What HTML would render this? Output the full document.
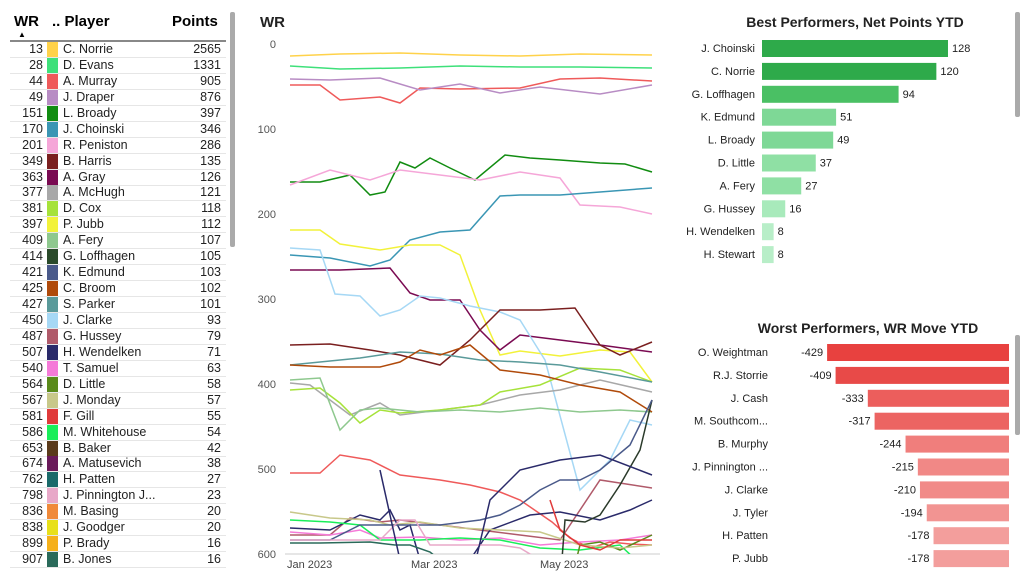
<!DOCTYPE html><html><head><style>
body{margin:0;width:1024px;height:585px;background:#fff;font-family:"Liberation Sans",sans-serif;overflow:hidden;position:relative}
.r{position:absolute;left:10px;width:216px;height:15px;border-bottom:1px solid #e6e6e6;font-size:12.5px;line-height:15px;color:#222}
.r .w{position:absolute;right:183px}
.r .s{position:absolute;left:37px;width:11px;height:15px}
.r .n{position:absolute;left:53px}
.r .p{position:absolute;right:5px}
</style></head><body>
<div style="position:absolute;left:14px;top:13px;font-weight:bold;font-size:15px">WR</div>
<div style="position:absolute;left:18px;top:30px;font-size:8px">▲</div>
<div style="position:absolute;left:52px;top:13px;font-weight:bold;font-size:15px">.. Player</div>
<div style="position:absolute;left:172px;top:13px;font-weight:bold;font-size:15px">Points</div>
<div style="position:absolute;left:10px;top:40px;width:216px;height:2px;background:#888"></div>
<div style="position:absolute;left:230px;top:12px;width:5px;height:235px;background:#aaa;border-radius:2px"></div>
<div id="tb"></div>
<svg style="position:absolute;left:0;top:0" width="1024" height="585">
<defs><clipPath id="c"><rect x="285" y="40" width="380" height="514"/></clipPath></defs>
<text x="260" y="27" font-size="15" font-weight="bold" fill="#222" font-family="Liberation Sans">WR</text>
<g font-size="11" fill="#555" font-family="Liberation Sans" text-anchor="end">
<text x="276" y="48">0</text><text x="276" y="133">100</text><text x="276" y="218">200</text><text x="276" y="303">300</text><text x="276" y="388">400</text><text x="276" y="473">500</text><text x="276" y="558">600</text></g>
<line x1="285" y1="554" x2="660" y2="554" stroke="#ccc"/>
<g font-size="11" fill="#444" font-family="Liberation Sans"><text x="287" y="568">Jan 2023</text><text x="411" y="568">Mar 2023</text><text x="540" y="568">May 2023</text></g>
<g fill="none" stroke-width="1.5" id="lines" clip-path="url(#c)"></g>
<text x="855" y="27" font-size="14" font-weight="bold" fill="#222" text-anchor="middle" font-family="Liberation Sans">Best Performers, Net Points YTD</text>
<text x="868" y="333" font-size="14" font-weight="bold" fill="#222" text-anchor="middle" font-family="Liberation Sans">Worst Performers, WR Move YTD</text>
<g id="bars" font-size="11" font-family="Liberation Sans" fill="#222"></g>
<rect x="1015" y="12" width="5" height="105" fill="#aaa" rx="2"/>
<rect x="1015" y="335" width="5" height="100" fill="#aaa" rx="2"/>
</svg>
<script>
var rows=[[13,'#ffd24a','C. Norrie',2565],[28,'#3ee07a','D. Evans',1331],[44,'#ef5a5a','A. Murray',905],[49,'#b88cc4','J. Draper',876],[151,'#118c11','L. Broady',397],[170,'#3a96b4','J. Choinski',346],[201,'#f5a6d8','R. Peniston',286],[349,'#7a1f1f','B. Harris',135],[363,'#7a0a52','A. Gray',126],[377,'#a8a8a8','A. McHugh',121],[381,'#a6e23a','D. Cox',118],[397,'#f2f23a','P. Jubb',112],[409,'#8ec88e','A. Fery',107],[414,'#2a4a2a','G. Loffhagen',105],[421,'#4a5a8a','K. Edmund',103],[425,'#b04a0a','C. Broom',102],[427,'#5a9a9a','S. Parker',101],[450,'#a6d8f5','J. Clarke',93],[487,'#b05a6a','G. Hussey',79],[507,'#2a2a6a','H. Wendelken',71],[540,'#f57ad8','T. Samuel',63],[564,'#5a8a1a','D. Little',58],[567,'#c8c88a','J. Monday',57],[581,'#e03a3a','F. Gill',55],[586,'#1aee5a','M. Whitehouse',54],[653,'#5a3a1a','B. Baker',42],[674,'#6a1a5a','A. Matusevich',38],[762,'#1a6a6a','H. Patten',27],[798,'#e8a8c8','J. Pinnington J...',23],[836,'#f08a3a','M. Basing',20],[838,'#e8e01a','J. Goodger',20],[899,'#f5b01a','P. Brady',16],[907,'#2a6a5a','B. Jones',16]];
var h='';rows.forEach(function(r,i){h+='<div class="r" style="top:'+(42+i*15.94)+'px"><span class="w">'+r[0]+'</span><span class="s" style="background:'+r[1]+'"></span><span class="n">'+r[2]+'</span><span class="p">'+r[3]+'</span></div>'});
document.getElementById('tb').innerHTML=h;
var L=[['#ffd24a','290,56 340,54 400,53 460,55 520,56 580,54 652,55'],
['#3ee07a','290,66 340,69 400,68 460,66 520,67 580,67 652,68'],
['#ef5a5a','290,85 320,85 340,100 380,97 400,103 420,88 460,89 520,88 560,79 600,78 652,81'],
['#b88cc4','290,79 330,80 380,78 420,90 460,84 500,93 540,87 600,94 652,85'],
['#118c11','290,182 320,182 350,175 370,195 385,192 400,162 415,168 430,158 450,168 475,180 505,155 530,158 560,160 600,163 625,164 652,172'],
['#f5a6d8','290,185 330,170 370,180 400,170 440,175 480,180 520,172 560,178 580,205 620,207 652,214'],
['#3a96b4','290,255 330,258 370,266 390,260 410,240 440,232 470,230 500,196 520,195 560,195 600,192 652,188'],
['#f2f23a','290,230 320,230 340,244 380,250 410,245 440,245 460,255 480,310 500,355 520,351 560,356 600,350 630,352 652,382'],
['#7a0a52','290,270 340,270 390,268 410,293 430,300 460,300 480,330 500,350 520,335 560,340 600,345 652,352'],
['#a6d8f5','290,248 320,250 335,294 360,296 380,316 400,310 420,296 440,298 470,306 500,312 520,320 545,360 580,490 610,460 630,420 652,425'],
['#7a1f1f','290,345 330,344 370,350 400,355 440,365 470,340 500,310 540,310 575,308 600,345 620,355 652,342'],
['#a8a8a8','290,383 310,385 330,400 350,415 380,403 400,415 440,410 480,405 520,395 560,390 600,380 652,392'],
['#a6e23a','290,390 320,388 340,403 360,423 380,410 400,413 440,410 480,405 500,392 540,385 580,368 620,370 652,382'],
['#8ec88e','290,380 320,378 340,430 360,410 380,408 420,412 460,410 500,412 540,408 580,412 620,410 652,412'],
['#5a9a9a','290,365 320,362 360,358 400,352 440,354 480,360 520,362 560,365 600,372 652,382'],
['#b04a0a','290,365 330,367 380,367 400,362 420,350 440,355 470,345 500,370 540,375 580,385 620,392 652,412'],
['#ef5a5a','290,473 320,473 340,455 370,460 400,475 440,480 470,485 500,492 520,500 552,522 570,538 590,548 610,542 630,544 652,545'],
['#b05a6a','290,535 330,535 350,518 380,522 400,520 440,525 480,530 520,535 560,540 600,480 652,488'],
['#2a2a6a','290,528 330,530 360,515 380,520 390,510 400,530 410,525 420,560 430,560 470,560 490,530 530,515 560,512 600,520 630,510 652,500'],
['#f57ad8','290,532 330,535 360,530 380,538 420,537 460,540 500,538 540,545 580,542 620,540 652,535'],
['#1aee5a','290,520 330,522 360,525 380,540 420,540 460,538 500,540 540,548 580,550 620,545 652,575'],
['#5a8a1a','570,585 580,545 600,542 620,550 652,535'],
['#c8c88a','290,512 330,518 370,520 390,525 420,522 460,528 500,530 540,532 580,545 620,548 652,545'],
['#e03a3a','550,500 560,530 580,545 600,550 620,540 652,540'],
['#2a3a2a','560,585 565,520 585,522 600,515 620,485 640,450 652,400'],
['#4a5a8a','290,540 330,540 360,525 400,525 440,525 480,520 500,515 520,505 540,490 560,480 580,480 600,470 630,445 652,400'],
['#2a6a5a','290,543 320,543 370,542 395,545 410,545 430,552 440,560'],
['#e8a8c8','290,540 340,540 380,540 400,520 415,520 430,545 500,545 520,548 540,560 545,585'],
['#2a2a6a','380,470 400,560 410,585'],
['#2a2a6a','470,585 490,500 520,470 560,460 600,455 652,475']];
var g='';L.forEach(function(l){g+='<polyline stroke="'+l[0]+'" points="'+l[1]+'"/>'});
document.getElementById('lines').innerHTML=g;
var best=[['J. Choinski',128],['C. Norrie',120],['G. Loffhagen',94],['K. Edmund',51],['L. Broady',49],['D. Little',37],['A. Fery',27],['G. Hussey',16],['H. Wendelken',8],['H. Stewart',8]];
var bc=['#2eaa4a','#2eaa4a','#4ac064','#7ed896','#7ed896','#8fe0a4','#8fe0a4','#a8eabb','#b8eec8','#b8eec8'];
var worst=[['O. Weightman',-429],['R.J. Storrie',-409],['J. Cash',-333],['M. Southcom...',-317],['B. Murphy',-244],['J. Pinnington ...',-215],['J. Clarke',-210],['J. Tyler',-194],['H. Patten',-178],['P. Jubb',-178]];
var wc=['#e8413f','#e84a48','#ec5e5c','#ec6462','#f07e7c','#f18886','#f18a88','#f29492','#f39e9c','#f39e9c'];
var b='';best.forEach(function(r,i){var y=40+i*22.9,w=r[1]*1.453;b+='<text x="755" y="'+(y+12)+'" text-anchor="end">'+r[0]+'</text><rect x="762" y="'+y+'" width="'+w+'" height="17" fill="'+bc[i]+'"/><text x="'+(766+w)+'" y="'+(y+12)+'">'+r[1]+'</text>'});
worst.forEach(function(r,i){var y=344+i*22.9,w=-r[1]*0.424;b+='<text x="768" y="'+(y+12)+'" text-anchor="end">'+r[0]+'</text><rect x="'+(1009-w)+'" y="'+y+'" width="'+w+'" height="17" fill="'+wc[i]+'"/><text x="'+(1005-w)+'" y="'+(y+12)+'" text-anchor="end">'+r[1]+'</text>'});
document.getElementById('bars').innerHTML=b;
</script>
</body></html>
